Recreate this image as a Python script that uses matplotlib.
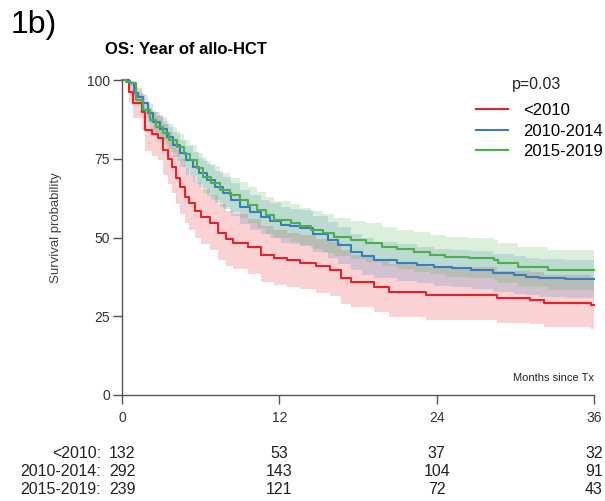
import matplotlib.pyplot as plt
import matplotlib.transforms as mtransforms

plt.rcParams['font.family'] = ['Liberation Sans', 'DejaVu Sans']

# <2010
red_t = [0, 0.5, 0.84, 1.5, 1.76, 2.3, 2.76, 3.1, 3.5, 3.8, 4.1, 4.4, 4.8, 5.1, 5.6, 6.0, 6.7, 7.3, 7.9, 8.5,
         9.6, 10.6, 11.6, 12.6, 13.6, 14.8, 15.9, 16.7, 17.5, 19.2, 20.4, 23.2, 28.6, 31.1, 32.2, 35.8, 36]
red_s = [100, 96.2, 92.7, 89.8, 84.1, 83, 81.6, 77.8, 75, 72.4, 69, 66, 63, 61, 58.5, 56.5, 54.6, 51.4, 49.5, 48.3,
         47, 44.4, 43.5, 42.8, 41.9, 40.8, 39.7, 37.1, 35.8, 34.3, 32.7, 31.7, 30.8, 30.2, 29.2, 28.6, 28.6]
red_hi = [100, 99.5, 97.5, 95.5, 91, 90, 89, 86, 83.5, 81, 78, 75, 72, 70, 67.5, 65.5, 63.5, 60.5, 58.5, 57.5,
          56, 53.5, 52.5, 51.5, 50.8, 49.5, 48.5, 46, 44.5, 43, 41.5, 40.5, 39.5, 39, 38, 37.5, 37.5]
red_lo = [100, 93, 88, 84, 77.5, 76, 74.5, 70, 67, 64, 60.5, 57.5, 54.5, 52.5, 50, 48, 46, 43, 41, 40,
          38.5, 36, 35, 34.3, 33.5, 32.5, 31.5, 29, 27.8, 26.3, 24.8, 23.8, 23, 22.4, 21.5, 21, 21]

# 2010-2014
blue_t = [0, 0.3, 0.6, 0.9, 1.2, 1.6, 2.0, 2.4, 2.9, 3.4, 3.9, 4.4, 4.9, 5.4, 5.9, 6.5, 7.1, 7.7, 8.3, 9.0,
          9.8, 10.6, 11.3, 12.1, 12.8, 13.6, 14.6, 15.7, 16.5, 17.5, 18.3, 19.2, 21, 22.5, 23.8, 25.2, 26.6, 28.3,
          29.9, 30.8, 31.8, 33.8, 36]
blue_s = [100, 99.6, 99, 96, 94.5, 92.7, 89.5, 86.7, 84.5, 82, 79.5, 76.8, 74.5, 72.4, 70.5, 68.3, 66, 64.1, 62, 59.7,
          58, 56.5, 55.3, 54, 53.6, 53, 51, 49.2, 47.5, 45.4, 44, 42.9, 42, 41.3, 40.6, 40.2, 39.7, 38.8,
          38.1, 37.6, 37.1, 36.8, 36.8]
blue_hi = [100, 100, 99.8, 97.5, 96.5, 95.2, 92.5, 90, 88.1, 85.9, 83.6, 81.1, 79, 77.1, 75.3, 73.3, 71.1, 69.3, 67.3,
           65.1, 63.5, 62, 60.9, 59.6, 59.2, 58.7, 56.7, 54.9, 53.3, 51.2, 49.8, 48.7, 47.8, 47.1, 46.5, 46.1, 45.6,
           44.8, 44.1, 43.6, 43.1, 42.8, 42.8]
blue_lo = [100, 99.1, 98.2, 94.5, 92.5, 90.2, 86.5, 83.4, 80.9, 78.1, 75.4, 72.5, 70, 67.7, 65.7, 63.3, 60.9, 58.9,
           56.7, 54.3, 52.5, 51, 49.7, 48.4, 48, 47.3, 45.3, 43.5, 41.7, 39.6, 38.2, 37.1, 36.2, 35.5, 34.7, 34.3,
           33.8, 32.8, 32.1, 31.6, 31.1, 30.8, 30.8]

# 2015-2019
green_t = [0, 0.3, 0.6, 1.1, 1.6, 2.1, 2.6, 3.1, 3.6, 4.2, 4.7, 5.2, 5.7, 6.2, 6.8, 7.5, 8.2, 9.0, 9.6, 10.3,
           11.0, 11.6, 12.9, 13.6, 14.4, 15.3, 16.2, 17.5, 18.6, 19.8, 21, 22.3, 23.5, 24.6, 26.5, 28.4, 28.7,
           30.2, 32.5, 36]
green_s = [100, 99.5, 99, 93.7, 90.5, 87.3, 85.2, 83.2, 81, 78.7, 76.6, 74.6, 72, 69.2, 67.3, 65.1, 63.5, 61.9, 60.3,
           58.7, 57, 55.6, 54.6, 53.5, 52.4, 51.3, 50.2, 49.2, 48.3, 47, 46.2, 45.4, 44.6, 43.8, 43.4, 42.9, 41.9,
           40.6, 39.7, 39.7]
green_hi = [100, 100, 99.8, 95.7, 93.1, 90.4, 88.6, 86.9, 85, 83, 81.1, 79.3, 76.9, 74.3, 72.6, 70.5, 69, 67.5, 66,
            64.5, 62.9, 61.5, 60.6, 59.5, 58.4, 57.4, 56.3, 55.3, 54.5, 53.2, 52.4, 51.7, 50.9, 50.1, 49.7, 49.3,
            48.3, 47, 46.1, 46.1]
green_lo = [100, 99, 98.2, 91.7, 87.9, 84.2, 81.8, 79.5, 77, 74.4, 72.1, 69.9, 67.1, 64.1, 62, 59.7, 58, 56.3, 54.6,
            52.9, 51.1, 49.7, 48.6, 47.5, 46.4, 45.2, 44.1, 43.1, 42.1, 40.8, 40, 39.1, 38.3, 37.5, 37.1, 36.5,
            35.5, 34.2, 33.3, 33.3]

groups = ["<2010", "2010-2014", "2015-2019"]
risk_times = [0, 12, 24, 36]
risk_counts = [[132, 53, 37, 32],
               [292, 143, 104, 91],
               [239, 121, 72, 43]]

colors = ["#e8202a", "#3a7dbf", "#4caf4a"]

W, H = 605, 501
fig = plt.figure(figsize=(W / 100, H / 100), dpi=100)
ax = fig.add_axes([122 / W, 1 - 395 / H, (594 - 122) / W, (395 - 80) / H])

series = [(red_t, red_s, red_lo, red_hi), (blue_t, blue_s, blue_lo, blue_hi), (green_t, green_s, green_lo, green_hi)]
for (t, s, lo, hi), c in zip(series, colors):
    ax.fill_between(t, lo, hi, step="post", color=c, alpha=0.2, linewidth=0, clip_on=False)
for (t, s, lo, hi), c, g in zip(series, colors, groups):
    ax.step(t, s, where="post", color=c, lw=1.5, label=g, clip_on=False)

ax.set_xlim(0, 36)
ax.set_ylim(0, 100)
ax.set_xticks([0, 12, 24, 36])
ax.set_yticks([0, 25, 50, 75, 100])
for side in ["top", "right"]:
    ax.spines[side].set_visible(False)
for side in ["left", "bottom"]:
    ax.spines[side].set_color("#555555")
    ax.spines[side].set_linewidth(1.0)
ax.tick_params(colors="#555555", labelcolor="#333333", labelsize=10, length=6.5, width=1.0)
ax.tick_params(axis="y", pad=2)
ax.tick_params(axis="x", pad=5)

fig.text(56 / W, 1 - 228 / H, "Survival probability", rotation=90, ha="center", va="center",
         fontsize=9.5, color="#444444")
ax.text(1.0, 0.055, "Months since Tx", transform=ax.transAxes, ha="right", va="center",
        fontsize=8, color="#222222")

leg = ax.legend(loc="upper left", bbox_to_anchor=(476 / W, 1 - 103 / H), bbox_transform=fig.transFigure,
                frameon=False, fontsize=12, borderpad=0, borderaxespad=0,
                handlelength=1.9, handletextpad=0.9, labelspacing=0.34)
fig.text(537 / W, 1 - 85 / H, "p=0.03", ha="center", va="center", fontsize=11.5, color="#222222")

fig.text(11 / W, 1 - 25 / H, "1b)", fontsize=23, va="center", ha="left")
fig.text(105 / W, 1 - 50 / H, "OS: Year of allo-HCT", fontsize=12, fontweight="bold",
         va="center", ha="left")

# numbers at risk
trans = mtransforms.blended_transform_factory(ax.transData, fig.transFigure)
row_y = [453, 471, 489]
for g, counts, y in zip(groups, risk_counts, row_y):
    fy = 1 - y / H
    fig.text(101 / W, fy, g + ":", ha="right", va="center", fontsize=11.5, color="#222222")
    for tt, n in zip(risk_times, counts):
        ax.text(tt, fy, str(n), transform=trans, ha="center", va="center", fontsize=11.5, color="#222222",
                clip_on=False)

fig.savefig("out.png", dpi=100)
